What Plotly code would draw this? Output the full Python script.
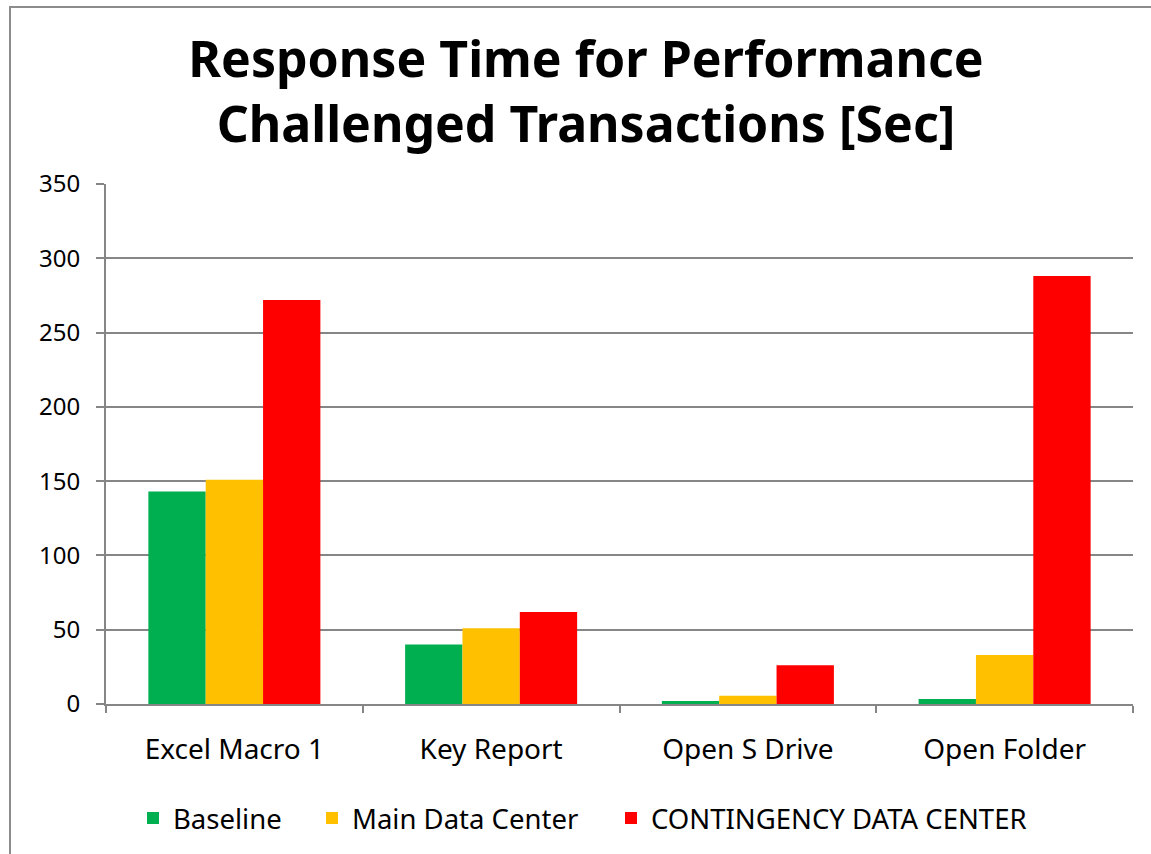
import plotly.graph_objects as go

categories = ["Excel Macro 1", "Key Report", "Open S Drive", "Open Folder"]
baseline = [143, 40, 2, 3.4]
main_dc = [151, 51, 5.5, 33]
contingency_dc = [272, 62, 26, 288]
series_names = ["Baseline", "Main Data Center", "CONTINGENCY DATA CENTER"]
colors = ["#00B050", "#FFC000", "#FF0000"]

W, H = 1151, 854
L, R, T, B = 106, 18, 184, 150
pw, ph = W - L - R, H - T - B

def px_x(p):
    return (p - L) / pw

def px_y(p):
    return (H - B - p) / ph

font_family = "Noto Sans, DejaVu Sans, sans-serif"
grid = "#868686"

legend_ids = ["legend", "legend2", "legend3"]
legend_text_x = [175, 354, 653]

fig = go.Figure()
for name, vals, c, lg in zip(series_names, [baseline, main_dc, contingency_dc], colors, legend_ids):
    fig.add_trace(go.Bar(x=categories, y=vals, name=name, legend=lg,
                         marker=dict(color=c, line=dict(width=0))))

legend_layouts = {}
for lg, tx in zip(legend_ids, legend_text_x):
    legend_layouts[lg] = dict(
        orientation="h", x=px_x(tx - 42), xanchor="left", y=px_y(818), yanchor="middle",
        font=dict(size=27.5, family=font_family, color="black"),
        itemwidth=30, bgcolor="rgba(0,0,0,0)",
    )

fig.update_layout(
    width=W, height=H,
    margin=dict(l=L, r=R, t=T, b=B),
    paper_bgcolor="white", plot_bgcolor="white",
    barmode="group", bargap=0.33, bargroupgap=0,
    title=dict(
        text="<b>Response Time for Performance<br>Challenged Transactions [Sec]</b>",
        x=px_x(586), xref="paper", xanchor="center",
        y=1 - 77 / H, yref="container", yanchor="middle",
        font=dict(family=font_family, size=50, color="black"),
    ),
    font=dict(family=font_family, color="black"),
    showlegend=True,
    xaxis=dict(
        showline=True, linecolor=grid, linewidth=2,
        ticks="outside", ticklen=7, tickcolor=grid, tickwidth=2,
        tickson="boundaries",
        tickfont=dict(size=28, family=font_family, color="black"),
        ticklabelstandoff=19,
        showgrid=False,
    ),
    yaxis=dict(
        range=[0, 350], tickvals=[0, 50, 100, 150, 200, 250, 300, 350],
        showline=True, linecolor=grid, linewidth=2,
        ticks="outside", ticklen=8, tickcolor=grid, tickwidth=2,
        showgrid=True, gridcolor=grid, gridwidth=2,
        tickfont=dict(size=24, family=font_family, color="black"),
        ticklabelstandoff=11,
        zeroline=False,
    ),
    shapes=[
        dict(type="rect", xref="paper", yref="paper",
             x0=px_x(10), x1=px_x(1175), y0=px_y(880), y1=px_y(7),
             line=dict(color="#8c8c8c", width=2), fillcolor="rgba(0,0,0,0)", layer="below"),
    ],
    **legend_layouts,
)

fig.write_html("out.html", config={"displayModeBar": False},
               post_script="document.body.style.margin='0';")
